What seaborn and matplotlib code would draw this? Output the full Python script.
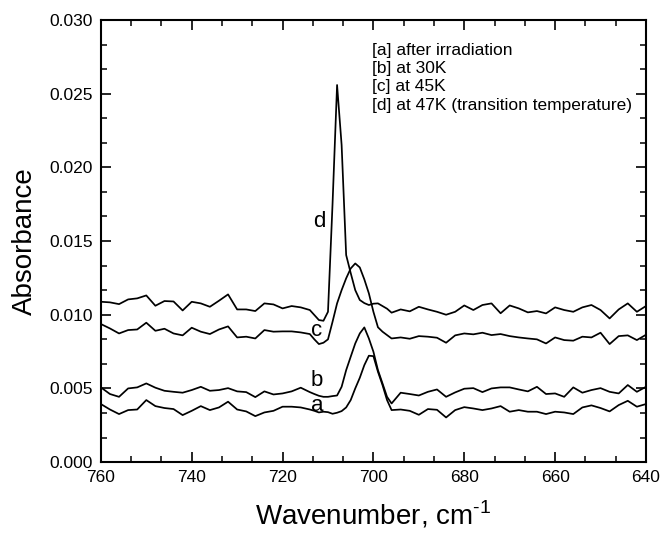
import numpy as np
import pandas as pd
import seaborn as sns
import matplotlib.pyplot as plt
from matplotlib.ticker import MultipleLocator, AutoMinorLocator

# -------------------------------------------------------
# Data (absorbance vs wavenumber)
# -------------------------------------------------------

wavenumber = (list(range(760, 713, -2)) + list(range(713, 695, -1))
              + list(range(694, 639, -2)))

spec_a = [0.00394, 0.00357, 0.00326, 0.00353, 0.00357, 0.00421, 0.00380, 0.00367,
          0.00360, 0.00319, 0.00348, 0.00380, 0.00353, 0.00371, 0.00410, 0.00357,
          0.00344, 0.00312, 0.00337, 0.00348, 0.00376, 0.00376, 0.00371, 0.00357,
          0.00348, 0.00337, 0.00342, 0.00339, 0.00328, 0.00335, 0.00346, 0.00371,
          0.00421, 0.00500, 0.00572, 0.00658, 0.00722, 0.00719, 0.00613, 0.00523,
          0.00421, 0.00353,
          0.00357, 0.00348, 0.00321, 0.00360, 0.00355, 0.00303, 0.00353, 0.00373,
          0.00364, 0.00353, 0.00364, 0.00380, 0.00342, 0.00353, 0.00342, 0.00342,
          0.00326, 0.00342, 0.00337, 0.00326, 0.00371, 0.00385, 0.00367, 0.00344,
          0.00387, 0.00416, 0.00376, 0.00394]

spec_b = [0.00507, 0.00462, 0.00443, 0.00500, 0.00507, 0.00534, 0.00505, 0.00484,
          0.00477, 0.00471, 0.00489, 0.00511, 0.00484, 0.00489, 0.00502, 0.00480,
          0.00475, 0.00441, 0.00480, 0.00459, 0.00466, 0.00480, 0.00505, 0.00475,
          0.00462, 0.00450, 0.00443, 0.00443, 0.00448, 0.00452, 0.00511, 0.00624,
          0.00715, 0.00805, 0.00873, 0.00914, 0.00839, 0.00749, 0.00624, 0.00534,
          0.00443, 0.00398,
          0.00471, 0.00462, 0.00452, 0.00477, 0.00493, 0.00443, 0.00473, 0.00498,
          0.00502, 0.00475, 0.00500, 0.00507, 0.00507, 0.00493, 0.00480, 0.00511,
          0.00462, 0.00466, 0.00443, 0.00507, 0.00471, 0.00489, 0.00502, 0.00477,
          0.00466, 0.00523, 0.00477, 0.00511]

spec_c = [0.00937, 0.00907, 0.00873, 0.00896, 0.00900, 0.00946, 0.00891, 0.00905,
          0.00873, 0.00860, 0.00912, 0.00885, 0.00869, 0.00900, 0.00921, 0.00846,
          0.00851, 0.00839, 0.00896, 0.00885, 0.00887, 0.00887, 0.00880, 0.00869,
          0.00833, 0.00801, 0.00810, 0.00833, 0.00952, 0.01077, 0.01167, 0.01247,
          0.01314, 0.01348, 0.01321, 0.01240, 0.01145, 0.01020, 0.00915, 0.00885,
          0.00862, 0.00839,
          0.00846, 0.00837, 0.00855, 0.00851, 0.00844, 0.00810, 0.00860, 0.00873,
          0.00867, 0.00878, 0.00862, 0.00869, 0.00855, 0.00846, 0.00839, 0.00833,
          0.00805, 0.00846, 0.00828, 0.00824, 0.00851, 0.00846, 0.00878, 0.00801,
          0.00855, 0.00860, 0.00828, 0.00864]

spec_d = [0.01088, 0.01084, 0.01072, 0.01104, 0.01111, 0.01131, 0.01061, 0.01093,
          0.01090, 0.01029, 0.01088, 0.01077, 0.01054, 0.01095, 0.01138, 0.01036,
          0.01036, 0.01025, 0.01077, 0.01070, 0.01043, 0.01059, 0.01050, 0.01032,
          0.00998, 0.00964, 0.00959, 0.01020, 0.01750, 0.02559, 0.02152, 0.01405,
          0.01283, 0.01167, 0.01100, 0.01079, 0.01066, 0.01075, 0.01077, 0.01059,
          0.01041, 0.01014,
          0.01036, 0.01023, 0.01054, 0.01036, 0.01020, 0.01000, 0.01020, 0.01063,
          0.01032, 0.01066, 0.01077, 0.01010, 0.01063, 0.01043, 0.01016, 0.01025,
          0.01009, 0.01050, 0.01032, 0.01020, 0.01050, 0.01066, 0.01032, 0.00975,
          0.01036, 0.01077, 0.01020, 0.01059]

legend_lines = ["[a] after irradiation",
                "[b] at 30K",
                "[c] at 45K",
                "[d] at 47K (transition temperature)"]

# long-form table for seaborn
frames = []
for name, vals in zip(["a", "b", "c", "d"], [spec_a, spec_b, spec_c, spec_d]):
    frames.append(pd.DataFrame({"wavenumber": wavenumber,
                                "absorbance": vals,
                                "curve": name}))
df = pd.concat(frames, ignore_index=True)

# -------------------------------------------------------
# Plot
# -------------------------------------------------------

sns.set_style("ticks")
plt.rcParams["font.family"] = ["Liberation Sans", "DejaVu Sans"]
plt.rcParams["text.color"] = "black"
plt.rcParams["axes.labelcolor"] = "black"
plt.rcParams["mathtext.fontset"] = "custom"
plt.rcParams["mathtext.rm"] = "Liberation Sans"

fig = plt.figure(figsize=(6.68, 5.33), dpi=100)
ax = fig.add_axes([0.151, 0.133, 0.816, 0.8295])

sns.lineplot(data=df, x="wavenumber", y="absorbance", units="curve",
             estimator=None, sort=False, color="black", linewidth=1.25, ax=ax)

ax.set_xlim(760, 640)
ax.set_ylim(0.0, 0.030)

ax.xaxis.set_major_locator(MultipleLocator(20))
ax.xaxis.set_minor_locator(AutoMinorLocator(3))
ax.yaxis.set_major_locator(MultipleLocator(0.005))
ax.yaxis.set_minor_locator(AutoMinorLocator(3))
ax.yaxis.set_major_formatter(plt.FormatStrFormatter("%.3f"))

ax.tick_params(which="both", direction="in", top=True, right=True,
               labelsize=12.5, color="black", labelcolor="black")
ax.tick_params(which="major", length=7, width=1.2, pad=6)
ax.tick_params(which="minor", length=4, width=1.1)
for s in ax.spines.values():
    s.set_linewidth(1.5)
    s.set_color("black")

ax.set_xlabel(r"Wavenumber, cm$^{\text{-1}}$", fontsize=20, labelpad=10)
ax.set_ylabel("Absorbance", fontsize=20, labelpad=8)

# curve letters
for letter, (xw, yv) in {"d": (712.0, 0.01631), "c": (712.5, 0.00896),
                         "b": (712.4, 0.00557), "a": (712.4, 0.00387)}.items():
    ax.text(xw, yv, letter, fontsize=16, ha="center", va="center")

# legend text block
for i, line in enumerate(legend_lines):
    ax.text(0.498, 0.9316 - i * 0.0415, line, transform=ax.transAxes,
            fontsize=12.5, ha="left", va="center")

fig.savefig("out.png", dpi=100)
